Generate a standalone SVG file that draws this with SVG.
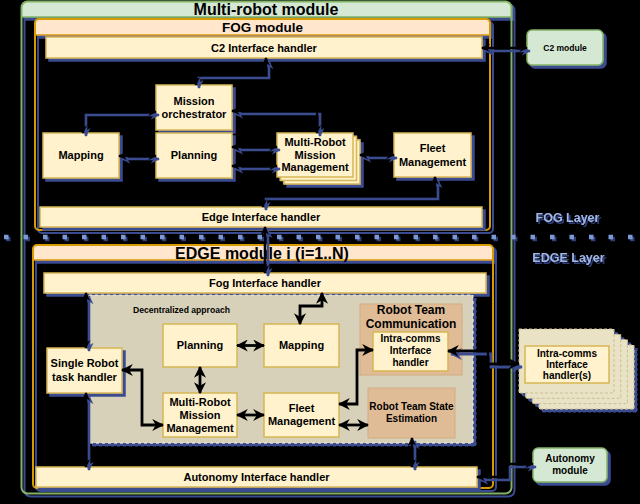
<svg xmlns="http://www.w3.org/2000/svg" width="640" height="504" viewBox="0 0 640 504">
<defs>
<style>
.t{font-family:"Liberation Sans",Arial,Helvetica,sans-serif;font-weight:bold;fill:#000;text-anchor:middle}
.box{fill:#fff2cc;stroke:#d6b656;stroke-width:1.5}
.tan{fill:#e0bc96;stroke:#d2ab82;stroke-width:1}
.sh{filter:url(#sh)}
.cn{fill:none;stroke:#000;stroke-width:2.6;marker-start:url(#a);marker-end:url(#a)}
.ck{fill:none;stroke:#000;stroke-width:2.8;marker-start:url(#b);marker-end:url(#b)}
.mod{fill:#d5e8d4;stroke:#82b366;stroke-width:1.5}
.sheet{fill:#e9e2c4;stroke:#c9bf98;stroke-width:1;stroke-dasharray:3 2}
.layer{font-family:"Liberation Sans",Arial,sans-serif;font-weight:bold;font-size:12.5px;fill:#9fb6e6;text-anchor:middle}
</style>
<filter id="sh" filterUnits="userSpaceOnUse" x="0" y="0" width="640" height="504">
<feFlood flood-color="#3b4b90"/>
<feComposite in2="SourceAlpha" operator="in"/>
<feOffset dx="3" dy="3"/>
<feMerge><feMergeNode/><feMergeNode in="SourceGraphic"/></feMerge>
</filter>
<filter id="sh2" filterUnits="userSpaceOnUse" x="0" y="0" width="640" height="504">
<feFlood flood-color="#2e3c78"/>
<feComposite in2="SourceAlpha" operator="in"/>
<feOffset dx="1.5" dy="1.5"/>
<feMerge><feMergeNode/><feMergeNode in="SourceGraphic"/></feMerge>
</filter>
<marker id="a" viewBox="0 0 10 10" refX="9" refY="5" markerWidth="9" markerHeight="9" markerUnits="userSpaceOnUse" orient="auto-start-reverse">
<path d="M0,0 L10,5 L0,10 L3,5 Z" fill="#000"/>
</marker>
<marker id="b" viewBox="0 0 10 10" refX="9" refY="5" markerWidth="12" markerHeight="12" markerUnits="userSpaceOnUse" orient="auto-start-reverse">
<path d="M0,0 L10,5 L0,10 L3,5 Z" fill="#000"/>
</marker>
</defs>
<rect x="0" y="0" width="640" height="504" fill="#000"/>

<!-- Containers -->
<g id="multi-robot-module">
<g class="sh">
<path d="M21.5,17 V7.5 A6,6 0 0 1 27.5,1.5 H505.5 A6,6 0 0 1 511.5,7.5 V17 Z" fill="#d5e8d4"/>
<rect x="21.5" y="1.5" width="490" height="492" rx="6" fill="none" stroke="#82b366" stroke-width="2"/>
<line x1="21.5" y1="17" x2="511.5" y2="17" stroke="#82b366" stroke-width="1.5"/>
</g>
<text class="t" x="266" y="14.5" font-size="16">Multi-robot module</text>
</g>

<g id="fog-module">
<g class="sh">
<path d="M35,35 V23 A4,4 0 0 1 39,19 H486 A4,4 0 0 1 490,23 V35 Z" fill="#ffe6cc"/>
<rect x="35" y="19" width="455" height="211" rx="4" fill="none" stroke="#d79b00" stroke-width="2"/>
<line x1="35" y1="35" x2="490" y2="35" stroke="#d79b00" stroke-width="1.5"/>
</g>
<text class="t" x="262.5" y="32" font-size="13.5">FOG module</text>
</g>

<g id="edge-module">
<g class="sh">
<path d="M33,260 V249 A4,4 0 0 1 37,245 H489 A4,4 0 0 1 493,249 V260 Z" fill="#ffe6cc"/>
<rect x="33" y="245" width="460" height="243" rx="4" fill="none" stroke="#d79b00" stroke-width="2"/>
<line x1="33" y1="260" x2="493" y2="260" stroke="#d79b00" stroke-width="1.5"/>
</g>
<text class="t" x="262" y="258.5" font-size="16">EDGE module i (i=1..N)</text>
</g>

<!-- FOG nodes -->
<g id="c2-interface-handler">
<rect class="box sh" x="46" y="37" width="436" height="21"/>
<text class="t" x="264" y="51.5" font-size="11">C2 Interface handler</text>
</g>
<g id="fog-mission-orchestrator">
<rect class="box sh" x="156" y="85" width="76" height="45"/>
<text class="t" font-size="11" x="194"><tspan x="194" y="104.5">Mission</tspan><tspan x="194" y="118">orchestrator</tspan></text>
</g>
<g id="fog-mapping">
<rect class="box sh" x="43" y="133" width="76" height="45"/>
<text class="t" x="81" y="159.4" font-size="11">Mapping</text>
</g>
<g id="fog-planning">
<rect class="box sh" x="156" y="133" width="76" height="45"/>
<text class="t" x="194" y="159.4" font-size="11">Planning</text>
</g>
<g id="fog-multi-robot-mission-management">
<g class="sh">
<rect class="box" x="284" y="140" width="76" height="44"/>
<rect class="box" x="280.5" y="136.5" width="76" height="44"/>
<rect class="box" x="277" y="133" width="76" height="44"/>
</g>
<text class="t" font-size="11" x="315"><tspan x="315" y="146">Multi-Robot</tspan><tspan x="315" y="158.5">Mission</tspan><tspan x="315" y="171">Management</tspan></text>
</g>
<g id="fog-fleet-management">
<rect class="box sh" x="394" y="133" width="77" height="44"/>
<text class="t" font-size="11" x="432.5"><tspan x="432.5" y="152">Fleet</tspan><tspan x="432.5" y="165.5">Management</tspan></text>
</g>
<g id="edge-interface-handler">
<rect class="box sh" x="40" y="207" width="442" height="20"/>
<text class="t" x="261" y="221" font-size="11">Edge Interface handler</text>
</g>

<!-- External nodes -->
<g id="c2-module">
<rect class="mod sh" x="527" y="30" width="76" height="35" rx="5"/>
<text class="t" x="565" y="50.7" font-size="8.5">C2 module</text>
</g>
<g id="autonomy-module">
<rect class="mod sh" x="533" y="448" width="74" height="34" rx="5"/>
<text class="t" font-size="10" x="570"><tspan x="570" y="461.7">Autonomy</tspan><tspan x="570" y="474">module</tspan></text>
</g>
<g id="intra-comms-interface-handlers">
<g class="sh">
<rect class="sheet" x="539" y="345" width="95" height="64"/>
<rect class="sheet" x="532.4" y="339.6" width="95" height="64"/>
<rect class="sheet" x="525.7" y="334.3" width="95" height="64"/>
<rect class="sheet" x="519" y="329" width="95" height="64"/>
</g>
<rect class="box" x="525" y="346" width="84" height="37"/>
<text class="t" font-size="10" x="567"><tspan x="567" y="356.7">Intra-comms</tspan><tspan x="567" y="368">Interface</tspan><tspan x="567" y="379.3">handler(s)</tspan></text>
</g>

<!-- EDGE nodes -->
<g id="fog-interface-handler">
<rect class="box sh" x="44" y="273" width="442" height="20"/>
<text class="t" x="265" y="287" font-size="11">Fog Interface handler</text>
</g>
<g id="decentralized-approach">
<rect class="sh" x="89" y="295" width="384" height="148" fill="#d7d1b9" stroke="#efe9d6" stroke-width="1" stroke-dasharray="3 3"/>
<text class="t" x="181.5" y="313" font-size="8.6">Decentralized approach</text>
</g>
<g id="edge-planning">
<rect class="box" x="163" y="324" width="74" height="43"/>
<text class="t" x="200" y="348.8" font-size="11">Planning</text>
</g>
<g id="edge-mapping">
<rect class="box" x="264" y="324" width="75" height="43"/>
<text class="t" x="301.5" y="348.8" font-size="11">Mapping</text>
</g>
<g id="edge-multi-robot-mission-management">
<rect class="box" x="163" y="393" width="74" height="44"/>
<text class="t" font-size="11" x="200"><tspan x="200" y="405.7">Multi-Robot</tspan><tspan x="200" y="418.7">Mission</tspan><tspan x="200" y="431.7">Management</tspan></text>
</g>
<g id="edge-fleet-management">
<rect class="box" x="264" y="393" width="75" height="44"/>
<text class="t" font-size="11" x="301.5"><tspan x="301.5" y="412">Fleet</tspan><tspan x="301.5" y="425">Management</tspan></text>
</g>
<g id="robot-team-communication">
<rect class="tan" x="360" y="304" width="102" height="71"/>
<text class="t" font-size="12" x="411"><tspan x="411" y="313.5">Robot Team</tspan><tspan x="411" y="327.5">Communication</tspan></text>
</g>
<g id="intra-comms-interface-handler">
<rect class="box" x="373" y="332" width="75" height="39"/>
<text class="t" font-size="10" x="410.5"><tspan x="410.5" y="342.3">Intra-comms</tspan><tspan x="410.5" y="354">Interface</tspan><tspan x="410.5" y="365.5">handler</tspan></text>
</g>
<g id="robot-team-state-estimation">
<rect class="tan" x="368" y="388" width="87" height="50"/>
<text class="t" font-size="10" x="411.5"><tspan x="411.5" y="410">Robot Team State</tspan><tspan x="411.5" y="421.7">Estimation</tspan></text>
</g>
<g id="single-robot-task-handler">
<rect class="box sh" x="47" y="348" width="75" height="45"/>
<text class="t" font-size="11" x="84.5"><tspan x="84.5" y="367.3">Single Robot</tspan><tspan x="84.5" y="380.7">task handler</tspan></text>
</g>
<g id="autonomy-interface-handler">
<rect class="box sh" x="36" y="467" width="441" height="20"/>
<text class="t" x="256.5" y="481" font-size="11">Autonomy Interface handler</text>
</g>

<!-- Connectors -->
<g id="connectors">
<g class="sh">
<path class="cn" d="M196,85 V75 H266 V58"/>
<path class="cn" d="M83,133 V112 H156"/>
<path class="cn" d="M119,156 H156"/>
<path class="cn" d="M232,111 H317 V133"/>
<path class="cn" d="M232,147 H277"/>
<path class="cn" d="M232,166 H277"/>
<path class="cn" d="M360,155 H394"/>
<path class="cn" d="M435,177 V196 H263 V207"/>
<path class="cn" d="M265,227 V273"/>
<path class="cn" d="M482,48 H527"/>
<path class="cn" d="M86,348 V293"/>
<path class="cn" d="M86,393 V467"/>
<path class="cn" d="M412,438 V467"/>
<path class="cn" d="M477,477 H507 V464 H533"/>
<path class="ck" d="M448,351 H488 V364 H519"/>
</g>
<path class="ck" d="M322,293 V306 H300 V324"/>
<path class="ck" d="M237,345.5 H264"/>
<path class="ck" d="M200,367 V393"/>
<path class="ck" d="M237,415 H264"/>
<path class="ck" d="M122,370 H142 V425 H163"/>
<path class="ck" d="M339,404 H357 V350 H373"/>
<path class="ck" d="M339,425 H368"/>
</g>

<!-- Layer separator -->
<g id="layer-separator">
<line x1="4" y1="237" x2="636" y2="237" stroke="#7d98d6" stroke-width="4.5" stroke-dasharray="4.5 15" style="filter:url(#sh2)"/>
<text class="layer" x="567.5" y="222" style="filter:url(#sh2)">FOG Layer</text>
<text class="layer" x="568.5" y="262" style="filter:url(#sh2)">EDGE Layer</text>
</g>
</svg>
